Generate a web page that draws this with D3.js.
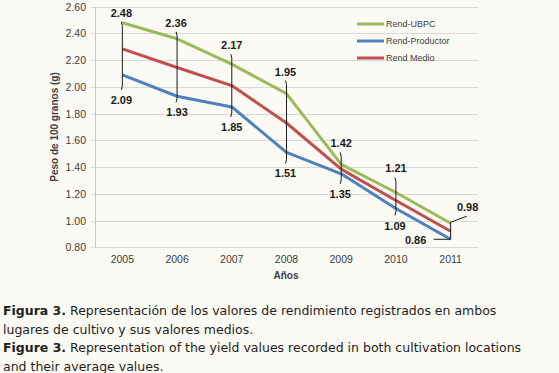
<!DOCTYPE html>
<html>
<head>
<meta charset="utf-8">
<script src="https://cdn.jsdelivr.net/npm/d3@7"></script>
<style>
  html, body { margin: 0; padding: 0; background: #fbfaf4; }
  svg { display: block; }
</style>
</head>
<body>
<svg id="chart" width="559" height="373"></svg>
<script>
// data
let years = ['2005', '2006', '2007', '2008', '2009', '2010', '2011']
let rendUBPC = [2.48, 2.36, 2.17, 1.95, 1.42, 1.21, 0.98]
let rendProductor = [2.09, 1.93, 1.85, 1.51, 1.35, 1.09, 0.86]
let rendMedio = [2.285, 2.145, 2.01, 1.73, 1.385, 1.15, 0.92]
let yTicks = [0.8, 1.0, 1.2, 1.4, 1.6, 1.8, 2.0, 2.2, 2.4, 2.6]
let seriesNames = ['Rend-UBPC', 'Rend-Productor', 'Rend Medio']

// label placement (layout only)
let upperOffsets = [[-1, -10], [-1, -16], [0, -19], [-1, -22], [0, -21], [0, -24], [17, -16]]
let lowerOffsets = [[-1, 25], [0, 16], [0, 20], [-1, 21], [-1, 20], [-1, 17], [-35, 1]]

let colors = {'Rend-UBPC': '#9bbb59', 'Rend-Productor': '#4f81bd', 'Rend Medio': '#c0504d'}

let svg = d3.select('#chart')

let x = d3.scaleBand().domain(years).range([95, 478])
let y = d3.scaleLinear().domain([0.8, 2.6]).range([247.3, 6.7])
let cx = (d) => x(d) + x.bandwidth() / 2

// gridlines
svg.append('g')
   .selectAll('line')
   .data(yTicks)
   .enter()
   .append('line')
   .attr('x1', 91)
   .attr('x2', 478)
   .attr('y1', (d) => Math.round(y(d)) + 0.5)
   .attr('y2', (d) => Math.round(y(d)) + 0.5)
   .attr('stroke', '#d9d9d9')
   .attr('stroke-width', 1)

svg.append('line')
   .attr('x1', 95.5).attr('x2', 95.5)
   .attr('y1', y(2.6)).attr('y2', y(0.8))
   .attr('stroke', '#c8c8c8')

// y tick labels
svg.append('g')
   .selectAll('text')
   .data(yTicks)
   .enter()
   .append('text')
   .attr('x', 86)
   .attr('y', (d) => y(d) + 4)
   .attr('text-anchor', 'end')
   .style('font', '10.5px "Liberation Sans", Arial, sans-serif')
   .attr('fill', '#404040')
   .text((d) => d.toFixed(2))

// x tick labels
svg.append('g')
   .selectAll('text')
   .data(years)
   .enter()
   .append('text')
   .attr('x', (d) => cx(d))
   .attr('y', 263)
   .attr('text-anchor', 'middle')
   .style('font', '10.5px "Liberation Sans", Arial, sans-serif')
   .attr('fill', '#404040')
   .text((d) => d)

// axis titles
svg.append('text')
   .attr('transform', 'translate(58,' + ((y(2.6) + y(0.8)) / 2) + ') rotate(-90)')
   .attr('text-anchor', 'middle')
   .style('font', 'bold 10px "Liberation Sans", Arial, sans-serif')
   .attr('fill', '#404040')
   .text('Peso de 100 granos (g)')

svg.append('text')
   .attr('x', 286)
   .attr('y', 279)
   .attr('text-anchor', 'middle')
   .style('font', 'bold 10px "Liberation Sans", Arial, sans-serif')
   .attr('fill', '#404040')
   .text('Años')

// lines
let line = d3.line()
   .x((d, i) => cx(years[i]))
   .y((d) => y(d))

let drawOrder = [['Rend-Productor', rendProductor], ['Rend Medio', rendMedio], ['Rend-UBPC', rendUBPC]]
drawOrder.forEach(([name, values]) => {
    svg.append('path')
       .datum(values)
       .attr('d', line)
       .attr('fill', 'none')
       .attr('stroke', colors[name])
       .attr('stroke-width', 3)
       .attr('stroke-linejoin', 'round')
})

// data labels
let labelFont = 'bold 11px "Liberation Sans", Arial, sans-serif'

years.forEach((yr, i) => {
    let px = cx(yr)
    let ux = px + upperOffsets[i][0], uy = y(rendUBPC[i]) + upperOffsets[i][1]
    let lx = px + lowerOffsets[i][0], ly = y(rendProductor[i]) + lowerOffsets[i][1]

    svg.append('text')
       .attr('x', ux).attr('y', uy + 4)
       .attr('text-anchor', 'middle')
       .style('font', labelFont)
       .attr('fill', '#1a1a1a')
       .text(rendUBPC[i].toFixed(2))

    svg.append('text')
       .attr('x', lx).attr('y', ly + 4)
       .attr('text-anchor', 'middle')
       .style('font', labelFont)
       .attr('fill', '#1a1a1a')
       .text(rendProductor[i].toFixed(2))

    let pts
    if(i < years.length - 1){
        let top = uy + 9, bottom = ly - 10
        pts = [[px - 1, top], [px, top + 4], [px, bottom - 4], [px - 1, bottom]]
    }else{
        pts = [[ux - 1, uy + 9], [px, y(rendUBPC[i]) - 1], [px, y(rendProductor[i])], [lx + 18, y(rendProductor[i])]]
    }
    svg.append('path')
       .attr('d', d3.line()(pts))
       .attr('fill', 'none')
       .attr('stroke', '#1a1a1a')
       .attr('stroke-width', 1)
})

// legend
let legend = svg.append('g')
seriesNames.forEach((name, i) => {
    let ly = 24 + i * 17
    legend.append('line')
          .attr('x1', 357).attr('x2', 384)
          .attr('y1', ly).attr('y2', ly)
          .attr('stroke', colors[name])
          .attr('stroke-width', 3)
    legend.append('text')
          .attr('x', 386).attr('y', ly + 3)
          .style('font', '9px "Liberation Sans", Arial, sans-serif')
          .attr('fill', '#404040')
          .text(name)
})

// caption
let caption = [
    ['Figura 3.', ' Representación de los valores de rendimiento registrados en ambos'],
    ['', 'lugares de cultivo y sus valores medios.'],
    ['Figure 3.', ' Representation of the yield values recorded in both cultivation locations'],
    ['', 'and their average values.']
]
caption.forEach(([b, rest], i) => {
    let t = svg.append('text')
       .attr('x', 3)
       .attr('y', 315 + i * 18.7)
       .style('font', '12.5px "DejaVu Sans", Verdana, sans-serif')
       .attr('fill', '#1e1e1e')
    if(b){
        t.append('tspan').style('font-weight', 'bold').text(b)
    }
    t.append('tspan').text(rest)
})
</script>
</body>
</html>
